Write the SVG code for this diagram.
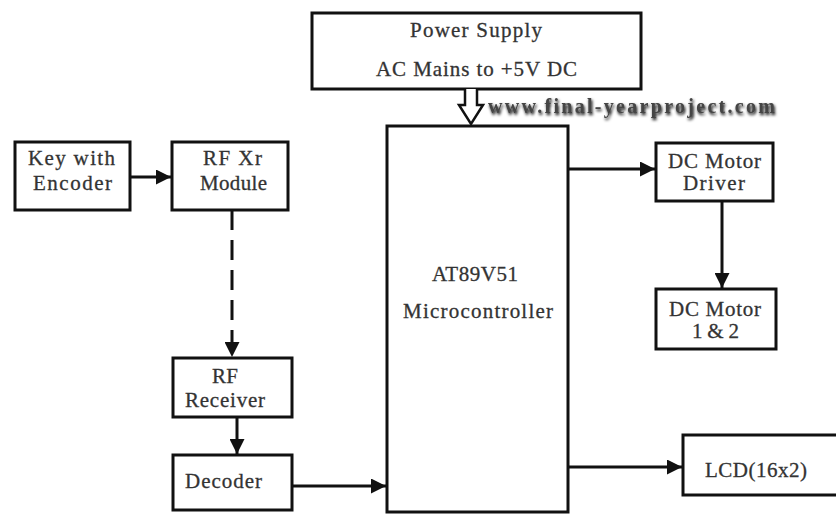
<svg xmlns="http://www.w3.org/2000/svg" width="836" height="514" viewBox="0 0 836 514">
<style>
.box{fill:#fff;stroke:#111;stroke-width:3}
.t{font-family:"Liberation Serif","DejaVu Serif",serif;font-size:21px;fill:#333;stroke:#333;stroke-width:0.3}
.c{fill:none;stroke:#111;stroke-width:3}
.web{font-family:"Liberation Serif","DejaVu Serif",serif;font-size:20px;font-weight:bold;fill:#444}
</style>
<defs>
<marker id="ah" viewBox="0 0 10 10" refX="10" refY="5" markerWidth="5" markerHeight="5" markerUnits="strokeWidth" orient="auto">
<path d="M0,0 L10,5 L0,10 z" fill="#111"/>
</marker>
<filter id="sh" x="-5%" y="-30%" width="110%" height="160%">
<feGaussianBlur in="SourceAlpha" stdDeviation="1.5"/>
<feOffset dx="1" dy="2" result="b"/>
<feMerge><feMergeNode in="b"/><feMergeNode in="SourceGraphic"/></feMerge>
</filter>
</defs>
<rect width="836" height="514" fill="#fff"/>
<g id="power">
<rect class="box" x="312" y="13" width="329" height="76"/>
<text class="t" x="410" y="37" textLength="132">Power Supply</text>
<text class="t" x="376" y="76" textLength="201">AC Mains to +5V DC</text>
</g>
<g id="mcu">
<rect class="box" x="387" y="126" width="181" height="386"/>
<text class="t" x="432" y="281" textLength="86">AT89V51</text>
<text class="t" x="403" y="318" textLength="150">Microcontroller</text>
</g>
<g id="key">
<rect class="box" x="15" y="142" width="115" height="68"/>
<text class="t" x="28" y="165" textLength="87">Key with</text>
<text class="t" x="33" y="190" textLength="79">Encoder</text>
</g>
<g id="rfxr">
<rect class="box" x="172" y="142" width="116" height="68"/>
<text class="t" x="203" y="165" textLength="59">RF Xr</text>
<text class="t" x="200" y="190" textLength="67">Module</text>
</g>
<g id="rfrx">
<rect class="box" x="173" y="358" width="119" height="59"/>
<text class="t" x="212" y="383" textLength="26">RF</text>
<text class="t" x="185" y="407" textLength="80">Receiver</text>
</g>
<g id="decoder">
<rect class="box" x="173" y="455" width="119" height="55"/>
<text class="t" x="185" y="488" textLength="77">Decoder</text>
</g>
<g id="driver">
<rect class="box" x="656" y="143" width="117" height="58"/>
<text class="t" x="668" y="168" textLength="93">DC Motor</text>
<text class="t" x="683" y="190" textLength="62">Driver</text>
</g>
<g id="motor">
<rect class="box" x="656" y="289" width="120" height="60"/>
<text class="t" x="669" y="316" textLength="92">DC Motor</text>
<text class="t" x="692" y="338" textLength="47">1 &amp; 2</text>
</g>
<g id="lcd">
<rect class="box" x="683" y="435" width="160" height="60"/>
<text class="t" x="705" y="477" textLength="102">LCD(16x2)</text>
</g>
<g id="connectors">
<path class="c" d="M130,177 H171" marker-end="url(#ah)"/>
<path class="c" d="M232,210 V357" stroke-dasharray="20,10" marker-end="url(#ah)"/>
<path class="c" d="M237,417 V454" marker-end="url(#ah)"/>
<path class="c" d="M292,486 H386" marker-end="url(#ah)"/>
<path class="c" d="M568,169 H655" marker-end="url(#ah)"/>
<path class="c" d="M722,201 V288" marker-end="url(#ah)"/>
<path class="c" d="M568,467 H682" marker-end="url(#ah)"/>
<path d="M465,89 V105 H459 L471,124 L483,105 H477 V89" fill="#fff" stroke="#111" stroke-width="2.5" stroke-linejoin="miter"/>
</g>
<text class="web" x="488" y="113" textLength="287" filter="url(#sh)">www.final-yearproject.com</text>
</svg>
